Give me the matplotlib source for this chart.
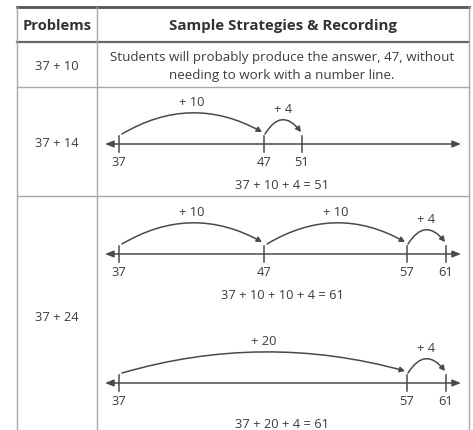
import numpy as np
import matplotlib.pyplot as plt
from matplotlib.patches import FancyArrowPatch

plt.rcParams['font.family'] = ['Open Sans', 'DejaVu Sans']

# table text
headers = ['Problems', 'Sample Strategies & Recording']
problems = ['37 + 10', '37 + 14', '37 + 24']
row1_text = ['Students will probably produce the answer, 47, without',
             'needing to work with a number line.']

# number lines: tick values, jumps, equation
line1_ticks = [37, 47, 51]
line1_jumps = [10, 4]
line1_eq = '37 + 10 + 4 = 51'

line2_ticks = [37, 47, 57, 61]
line2_jumps = [10, 10, 4]
line2_eq = '37 + 10 + 10 + 4 = 61'

line3_ticks = [37, 57, 61]
line3_jumps = [20, 4]
line3_eq = '37 + 20 + 4 = 61'

# open number line: positions are not to scale
tick_x = {37: 119, 47: 264, 51: 302, 57: 407, 61: 446}

txt = '#3c3c3c'
ln = '#4a4a4a'
grid = '#a8a8a8'
fs = 9.3

fig = plt.figure(figsize=(4.73, 4.31), dpi=100)
ax = fig.add_axes([0, 0, 1, 1])
ax.set_xlim(0, 473)
ax.set_ylim(431, 0)
ax.axis('off')

# table frame
L, M, R = 17, 97, 469
ax.plot([L, R], [8, 8], color='#555555', lw=2)
ax.plot([L, R], [43, 43], color='#666666', lw=1.6)
ax.plot([L, R], [88, 88], color=grid, lw=1)
ax.plot([L, R], [197, 197], color=grid, lw=1)
for x in [L, M, R]:
    ax.plot([x, x], [8, 431], color=grid, lw=1)

ax.text((L + M) / 2, 26, headers[0], ha='center', va='center', fontsize=10.6,
        fontweight='bold', color='#333333')
ax.text((M + R) / 2, 26, headers[1], ha='center', va='center', fontsize=10.8,
        fontweight='bold', color='#333333')

for y, p in zip([66, 144, 318], problems):
    ax.text(57, y, p, ha='center', va='center', fontsize=fs, color=txt)

ax.text(282, 58, row1_text[0], ha='center', va='center', fontsize=9.6, color=txt)
ax.text(282, 76, row1_text[1], ha='center', va='center', fontsize=9.6, color=txt)


def number_line(y, ticks, jumps, eq):
    # axis with arrows at both ends
    ax.annotate('', xy=(461, y), xytext=(105, y),
                arrowprops=dict(arrowstyle='<|-|>,head_length=0.5,head_width=0.2',
                                color=ln, lw=1.1, shrinkA=0, shrinkB=0))
    for v in ticks:
        x = tick_x[v]
        ax.plot([x, x], [y - 8, y + 8], color=ln, lw=1.1)
        ax.text(x, y + 18, str(v), ha='center', va='center', fontsize=fs, color=txt)
    for a, b, j in zip(ticks[:-1], ticks[1:], jumps):
        x0, x1 = tick_x[a], tick_x[b]
        small = (x1 - x0) < 60
        h = 13 if small else 20
        y0 = y - 10
        y1 = y - 12
        if small:
            x0s, x1s = x0 + 1, x1 - 1
        else:
            x0s, x1s = x0 + 3, x1 - 2
        rad = -2 * h / (x1s - x0s)
        arc = FancyArrowPatch((x0s, y0), (x1s, y1), connectionstyle='arc3,rad=%f' % rad,
                              arrowstyle='-|>,head_length=3,head_width=1.6',
                              color=ln, lw=1.1, shrinkA=0, shrinkB=0)
        ax.add_patch(arc)
        ax.text((x0s + x1s) / 2, y0 - h - 12, '+ %d' % j, ha='center', va='center',
                fontsize=fs, color=txt)
    ax.text(282, y + 41, eq, ha='center', va='center', fontsize=fs, color=txt)


number_line(145, line1_ticks, line1_jumps, line1_eq)
number_line(255, line2_ticks, line2_jumps, line2_eq)
number_line(384, line3_ticks, line3_jumps, line3_eq)

fig.savefig('out.png', dpi=100)
